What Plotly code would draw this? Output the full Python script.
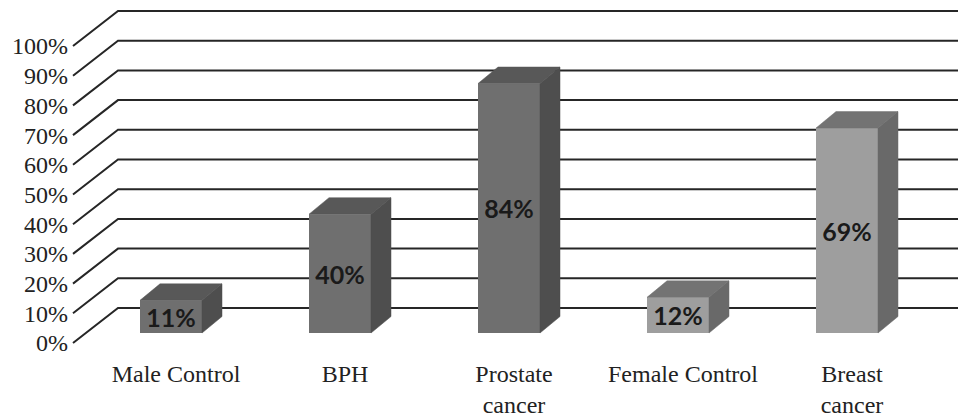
import plotly.graph_objects as go

# ---- data ----
categories = ["Male Control", "BPH", "Prostate<br>cancer", "Female Control", "Breast<br>cancer"]
values = [11, 40, 84, 12, 69]
groups = ["male", "male", "male", "female", "female"]
y_ticks = [0, 10, 20, 30, 40, 50, 60, 70, 80, 90, 100]
y_tick_labels = [f"{t}%" for t in y_ticks]

# ---- styling ----
FRONT = {"male": "#6f6f6f", "female": "#9e9e9e"}
TOP = {"male": "#585858", "female": "#737373"}
SIDE = {"male": "#4e4e4e", "female": "#696969"}
GRID = "#262626"
SERIF = "Liberation Serif, Times New Roman, serif"

# ---- layout geometry (pixels) ----
W, H = 958, 420
ML, MR, MT, MB = 10, 0, 0, 70
PX_PER_CAT = 169.0      # horizontal distance between categories
FIRST_CENTER = 171.0    # pixel x of first bar's front face centre
PX_PER_PCT = 2.97       # vertical pixels per percent
ZERO_PX = 333.0         # pixel y of bar front-face base

def xd(px):
    return (px - FIRST_CENTER) / PX_PER_CAT

def yd(py):
    return (ZERO_PX - py) / PX_PER_PCT

x_range = [xd(ML), xd(W - MR)]
y_range = [yd(H - MB), yd(MT)]

# oblique depth offsets
bar_w = 62 / PX_PER_CAT
bar_dx = 20 / PX_PER_CAT
bar_dy = 16.5 / PX_PER_PCT
wall_front_x = xd(73)
wall_back_x = xd(118)
wall_front_dy = yd(343)
wall_back_dy = yd(308)

xs = list(range(len(categories)))

fig = go.Figure()

# front faces of the bars
fig.add_trace(go.Bar(
    x=xs, y=values, width=bar_w,
    marker=dict(color=[FRONT[g] for g in groups], line=dict(width=0)),
    text=[f"{v}%" for v in values],
    textposition="inside", insidetextanchor="middle", textangle=0,
    constraintext="none",
    insidetextfont=dict(family="Lato", size=25, color="#1a1a1a", weight="bold"),
    hoverinfo="skip", showlegend=False,
))

# top and side faces
for x, v, g in zip(xs, values, groups):
    l, r = x - bar_w / 2, x + bar_w / 2
    fig.add_trace(go.Scatter(
        x=[l, r, r + bar_dx, l + bar_dx, l],
        y=[v, v, v + bar_dy, v + bar_dy, v],
        fill="toself", fillcolor=TOP[g], mode="lines",
        line=dict(width=0.5, color=TOP[g]),
        hoverinfo="skip", showlegend=False,
    ))
    fig.add_trace(go.Scatter(
        x=[r, r + bar_dx, r + bar_dx, r, r],
        y=[0, bar_dy, v + bar_dy, v, 0],
        fill="toself", fillcolor=SIDE[g], mode="lines",
        line=dict(width=0.5, color=SIDE[g]),
        hoverinfo="skip", showlegend=False,
    ))

# side-wall and back-wall gridlines
shapes = []
for t in y_ticks:
    shapes.append(dict(
        type="path", xref="x", yref="y", layer="below",
        path=(f"M {wall_front_x},{t + wall_front_dy} "
              f"L {wall_back_x},{t + wall_back_dy} "
              f"L {x_range[1]},{t + wall_back_dy}"),
        line=dict(color=GRID, width=2),
    ))

fig.update_layout(
    width=W, height=H,
    margin=dict(l=ML, r=MR, t=MT, b=MB),
    paper_bgcolor="white", plot_bgcolor="white",
    font=dict(family=SERIF, size=24, color="#222222"),
    shapes=shapes,
    showlegend=False,
    xaxis=dict(
        range=x_range, tickmode="array", tickvals=xs, ticktext=categories,
        showgrid=False, zeroline=False, showline=False, ticks="",
        tickfont=dict(family=SERIF, size=24, color="#222222"),
        ticklabelshift=5, ticklabelstandoff=7,
    ),
    yaxis=dict(
        range=y_range, showgrid=False, zeroline=False, showline=False,
        showticklabels=False, ticks="",
    ),
    yaxis2=dict(
        overlaying="y", anchor="free", side="left",
        position=(68 - ML) / (W - ML - MR),
        range=[y_range[0] - wall_front_dy, y_range[1] - wall_front_dy],
        tickmode="array", tickvals=y_ticks, ticktext=y_tick_labels,
        showgrid=False, zeroline=False, showline=False, ticks="",
        tickfont=dict(family=SERIF, size=24, color="#222222"),
    ),
)

# invisible trace so the secondary axis is drawn
fig.add_trace(go.Scatter(x=[xs[0]], y=[y_ticks[0]], yaxis="y2", mode="markers",
                         marker=dict(opacity=0), hoverinfo="skip", showlegend=False))

fig.write_html("out.html")
